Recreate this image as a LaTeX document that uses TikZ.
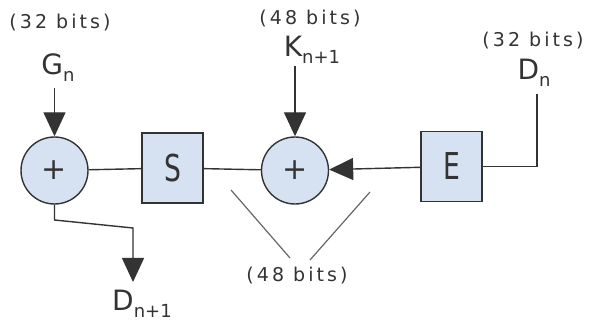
\documentclass[tikz,border=0pt]{standalone}
\usepackage{fontspec}
\setmainfont{DejaVu Sans}
\newfontfamily\narrowf[FakeStretch=0.72]{DejaVu Sans}
\newfontfamily\spacedf[LetterSpace=16]{DejaVu Sans}
\usetikzlibrary{arrows.meta}
\definecolor{boxfill}{HTML}{D6E2F2}
\definecolor{linec}{HTML}{333333}
\definecolor{txtc}{HTML}{333333}
\newcommand{\mysub}[1]{{\fontsize{18}{18}\selectfont\raisebox{-7pt}{#1}}}
\begin{document}
\begin{tikzpicture}[x=1pt,y=-1pt,
  every node/.style={text=txtc},
  adder/.style={circle, draw=linec, fill=boxfill, minimum size=67pt, inner sep=0pt, line width=1.4pt, font=\fontsize{30}{30}\selectfont},
  blk/.style={draw=linec, fill=boxfill, minimum width=61pt, minimum height=70pt, inner sep=0pt, line width=1.4pt, font=\narrowf\fontsize{37}{37}\selectfont},
  wire/.style={draw=linec, line width=1.4pt},
  arr/.style={wire, -{Triangle[length=24pt,width=22pt]}},
  thin/.style={draw=linec!75, line width=1.2pt},
  lbl/.style={font=\spacedf\fontsize{19}{19}\selectfont, inner sep=0pt},
  var/.style={font=\fontsize{28}{28}\selectfont, inner sep=0pt}]
\useasboundingbox (0,0) rectangle (590,323);
% blocks
\node[adder] (a1) at (54.5,170.5) {+};
\node[blk] (S) at (172.5,168) {S};
\node[adder] (a2) at (295,170.5) {+};
\node[blk] (E) at (451.5,166.5) {E};
% labels
\node[lbl] (b1) at (60,23) {(32 bits)};
\node[var] (G) at (58,68) {G\mysub{n}};
\node[lbl] (b2) at (310,19) {(48 bits)};
\node[var] (K) at (312,50) {K\mysub{n+1}};
\node[lbl] (b3) at (533,41) {(32 bits)};
\node[var] (D) at (534,73) {D\mysub{n}};
\node[var] (D1) at (142,304) {D\mysub{n+1}};
\node[lbl] (b4) at (297,276) {(48 bits)};
% coordinates
\coordinate (gin) at (54.5,88);
\coordinate (kin) at (295,66);
\coordinate (dtop) at (537,94);
\coordinate (o1) at (54.5,220);
\coordinate (o2) at (133,228);
\coordinate (o3) at (133,282);
\coordinate (l1a) at (231,190);
\coordinate (l1b) at (290,258);
\coordinate (l2a) at (370,192);
\coordinate (l2b) at (310,260);
% connectors
\draw[arr] (gin) -- (a1);
\draw[arr] (kin) -- (a2);
\draw[wire] (a1) -- (S);
\draw[wire] (S) -- (a2);
\draw[arr] (E) -- (a2);
\draw[wire] (dtop) |- (E.east);
\draw[arr] (a1.south) -- (o1) -- (o2) -- (o3);
\draw[thin] (l1a) -- (l1b);
\draw[thin] (l2a) -- (l2b);
\end{tikzpicture}
\end{document}
